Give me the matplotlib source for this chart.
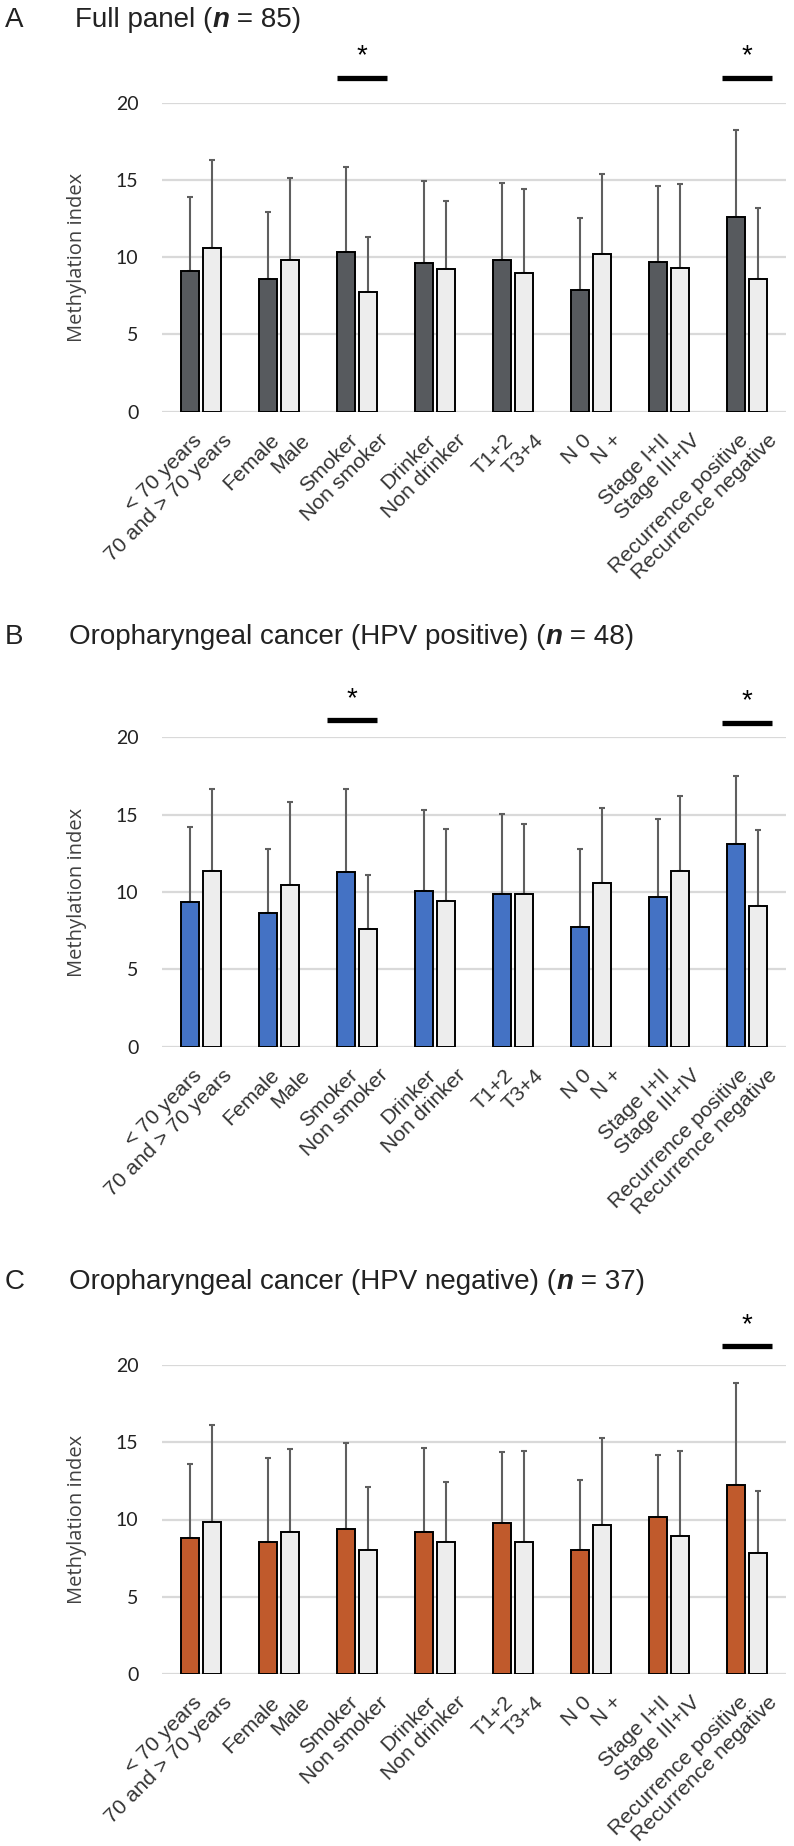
import matplotlib
matplotlib.use("Agg")
import matplotlib.pyplot as plt
import numpy as np
from matplotlib.transforms import offset_copy, blended_transform_factory

# ---------------- data ----------------
categories = ["< 70 years", "70 and > 70 years", "Female", "Male", "Smoker", "Non smoker",
              "Drinker", "Non drinker", "T1+2", "T3+4", "N 0", "N +",
              "Stage I+II", "Stage III+IV", "Recurrence positive", "Recurrence negative"]

A_means = [9.10, 10.57, 8.61, 9.82, 10.31, 7.72, 9.62, 9.23, 9.82, 9.00, 7.87, 10.18, 9.71, 9.32, 12.60, 8.59]
A_sd = [4.80, 5.74, 4.31, 5.30, 5.50, 3.59, 5.33, 4.38, 4.96, 5.39, 4.64, 5.18, 4.90, 5.42, 5.63, 4.57]

B_means = [9.38, 11.34, 8.64, 10.47, 11.31, 7.63, 10.06, 9.40, 9.85, 9.89, 7.76, 10.56, 9.66, 11.34, 13.10, 9.12]
B_sd = [4.82, 5.34, 4.14, 5.35, 5.33, 3.49, 5.22, 4.65, 5.19, 4.49, 5.00, 4.87, 5.04, 4.85, 4.38, 4.87]

C_means = [8.78, 9.84, 8.52, 9.19, 9.41, 8.00, 9.19, 8.52, 9.80, 8.57, 8.00, 9.67, 10.18, 8.93, 12.21, 7.83]
C_sd = [4.83, 6.28, 5.46, 5.35, 5.52, 4.08, 5.46, 3.89, 4.55, 5.84, 4.54, 5.58, 3.97, 5.48, 6.65, 4.04]

A_sig = [2, 7]
B_sig = [2, 7]
C_sig = [7]

yticks = [0, 5, 10, 15, 20]

titles = [("A", "Full panel (", "n", " = 85)"),
          ("B", "Oropharyngeal cancer (HPV positive) (", "n", " = 48)"),
          ("C", "Oropharyngeal cancer (HPV negative) (", "n", " = 37)")]

# ---------------- style ----------------
W, H = 794, 1846
fig = plt.figure(figsize=(W / 100, H / 100), dpi=100)

dark_colors = ["#575a5e", "#4472c4", "#c05a2c"]
light_color = "#ededed"
grid_color = "#d9d9d9"
err_color = "#5f5f5f"

ax_left_px, ax_right_px = 162, 786
panel_px = [(102.7, 411.7), (737.3, 1046.7), (1365.0, 1674.0)]
title_y_px = [20, 637, 1282]
title_x_px = [75, 69, 69]
sig_shift = [[0.06, 0.0], [-0.07, 0.0], [0.0]]
sig_level = [[21.6, 21.6], [21.1, 20.95], [21.2]]

all_means = [A_means, B_means, C_means]
all_sd = [A_sd, B_sd, C_sd]
all_sig = [A_sig, B_sig, C_sig]

n_pairs = len(categories) // 2
centers = np.arange(n_pairs)
off = 0.141
bw = 0.23

fig.canvas.draw()
renderer = fig.canvas.get_renderer()

for p in range(3):
    top_px, bot_px = panel_px[p]
    ax = fig.add_axes([ax_left_px / W, 1 - bot_px / H,
                       (ax_right_px - ax_left_px) / W, (bot_px - top_px) / H])
    means = np.array(all_means[p])
    sd = np.array(all_sd[p])
    dm, lm = means[0::2], means[1::2]
    ds, ls = sd[0::2], sd[1::2]
    xd = centers - off
    xl = centers + off

    ax.bar(xd, dm, width=bw, color=dark_colors[p], edgecolor="black", linewidth=1.4, zorder=3)
    ax.bar(xl, lm, width=bw, color=light_color, edgecolor="black", linewidth=1.4, zorder=3)
    ax.errorbar(xd, dm, yerr=[np.zeros_like(ds), ds], fmt="none", ecolor=err_color,
                elinewidth=1.5, capsize=2, capthick=1.5, zorder=2)
    ax.errorbar(xl, lm, yerr=[np.zeros_like(ls), ls], fmt="none", ecolor=err_color,
                elinewidth=1.5, capsize=2, capthick=1.5, zorder=2)

    ax.set_xlim(-0.5, n_pairs - 0.5)
    ax.set_ylim(0, 20)
    for s in ax.spines.values():
        s.set_visible(False)
    ax.grid(axis="y", color=grid_color, linewidth=1.6, zorder=0)
    ax.set_axisbelow(True)
    ax.set_yticks(yticks)
    ax.set_yticklabels([str(t) for t in yticks], fontsize=14, family="Lato", color="#222222")
    ax.tick_params(axis="y", length=0, pad=17)

    ax.set_xticks([])
    btrans = blended_transform_factory(ax.transData, ax.transAxes)
    trans_d = offset_copy(btrans, fig=fig, x=2, y=-19, units="dots")
    trans_l = offset_copy(btrans, fig=fig, x=10, y=-19, units="dots")
    for i, lab in enumerate(categories):
        pair = i // 2
        if i % 2 == 0:
            xp, tr = xd[pair], trans_d
        else:
            xp, tr = xl[pair], trans_l
        ax.text(xp, 0, lab, transform=tr, rotation=45, ha="right", va="top",
                rotation_mode="anchor", fontsize=15.3, family="Liberation Sans",
                color="#333333")

    ax.text(-0.137, 0.5, "Methylation index", transform=ax.transAxes, rotation=90,
            ha="center", va="center", fontsize=14.5, family="Open Sans", color="#404040")

    for k, pi in enumerate(all_sig[p]):
        c = pi + sig_shift[p][k]
        yl = sig_level[p][k]
        ax.plot([c - 0.32, c + 0.32], [yl, yl], color="black", linewidth=3.8,
                solid_capstyle="butt", clip_on=False, zorder=5)
        ax.text(c, yl + 0.55, "*", ha="center", va="bottom", fontsize=20,
                family="Liberation Sans", clip_on=False)

    letter, t1, tn, t2 = titles[p]
    ty = 1 - title_y_px[p] / H
    fig.text(5 / W, ty, letter, fontsize=20, family="Liberation Sans", va="center", ha="left",
             color="#222222")
    txt = fig.text(title_x_px[p] / W, ty, t1, fontsize=20, family="Liberation Sans",
                   va="center", ha="left", color="#222222")
    bb = txt.get_window_extent(renderer=renderer)
    txt2 = fig.text(bb.x1 / W, ty, tn, fontsize=20, family="Liberation Sans",
                    fontweight="bold", fontstyle="italic", va="center", ha="left", color="#222222")
    bb2 = txt2.get_window_extent(renderer=renderer)
    fig.text(bb2.x1 / W, ty, t2, fontsize=20, family="Liberation Sans",
             va="center", ha="left", color="#222222")

fig.savefig("out.png", dpi=100)
